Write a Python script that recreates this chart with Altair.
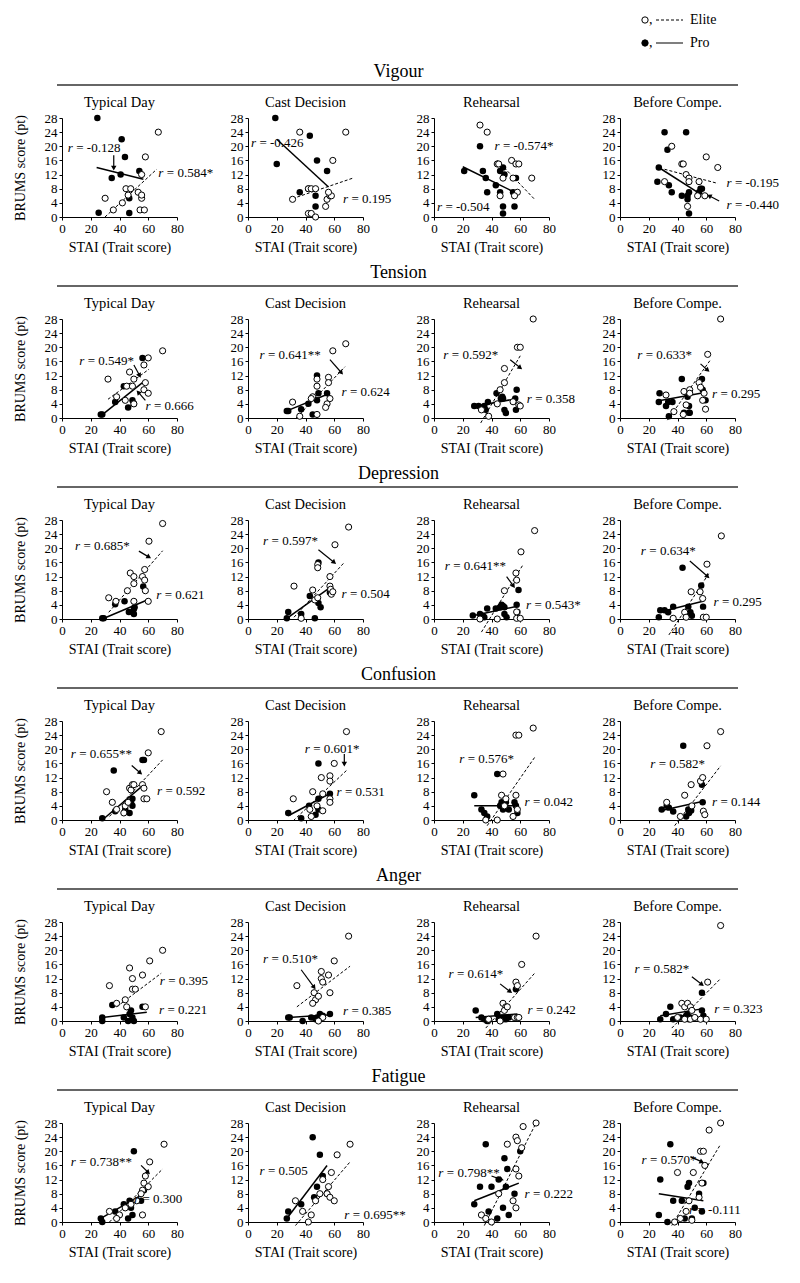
import math
import altair as alt
import pandas as pd

FONT = "Liberation Serif, Times New Roman, serif"
PERIODS = ["Typical Day", "Cast Decision", "Rehearsal", "Before Compe."]
MEASURES = ["Vigour", "Tension", "Depression", "Confusion", "Anger", "Fatigue"]
X_TICKS = [0, 20, 40, 60, 80]
Y_TICKS = [0, 4, 8, 12, 16, 20, 24, 28]
LEGEND_GROUPS = ["Elite", "Pro"]

# ---- data: per measure, 4 panels (Typical Day, Cast Decision, Rehearsal, Before Compe.)
# points are (STAI trait score, BRUMS score)
vigour_elite = [
    [(67, 24), (58, 17), (55.4, 12), (35.7, 2), (30, 5.3), (42, 4), (44.5, 8), (47.8, 8), (46, 6.2), (53, 7), (55.4, 5.3), (55.4, 6.2), (54.3, 2), (57.3, 2)],
    [(36, 24), (68, 24), (59, 16), (31, 5), (42, 8), (44, 8), (47, 8), (42, 1), (44, 1), (47, 0), (54, 3), (55, 5), (57, 6), (58, 6), (56, 7)],
    [(32, 26), (37, 24), (44, 15), (45, 15), (48, 11), (54, 16), (57, 15), (59, 15), (68, 11), (58, 7), (56, 6), (46, 6), (55, 11)],
    [(36, 20), (43, 15), (44, 15), (46, 12), (48, 11), (48, 10), (31, 10), (55, 10), (60, 17), (68, 14), (47, 3), (54, 6), (59, 6)],
]
vigour_pro = [
    [(24.6, 28), (41.5, 22), (43.8, 17), (34.6, 11), (40.8, 12), (53.8, 13), (46.8, 5.3), (46.8, 1.1), (25.5, 1.2)],
    [(19, 28), (20, 15), (36, 7), (43, 23), (48, 16), (47, 6), (47, 3), (55, 13), (42, 8)],
    [(21, 13), (32, 20), (34, 13), (36, 11), (37, 7), (43, 9), (46, 13), (48, 14), (49, 12), (46, 7), (48, 3), (48, 1), (55, 7), (56, 3), (57, 11)],
    [(31, 24), (46, 24), (33, 19), (27, 14), (26, 10), (34, 9), (36, 7), (43, 6), (47, 5), (47, 6), (48, 7), (48, 1), (55, 7), (56, 8), (57, 8)],
]
# regression line end points: (elite x1, y1, x2, y2), (pro x1, y1, x2, y2)
vigour_lines = [
    ((29.9, 0, 65.9, 13.5), (24.1, 14, 56.6, 10.7)),
    ((31, 5.2, 73, 11), (20, 22, 56, 8.5)),
    ((44, 16, 70, 5), (20, 14.2, 56, 7)),
    ((31, 13.5, 68, 9.5), (27, 14, 56, 6.5)),
]
# r annotations: (value, x, y, arrow (x1, y1, x2, y2) or None)
vigour_r = [
    [("-0.128", 4, 19.5, (36, 17.5, 36, 13.8)), ("0.584*", 67, 12.5, None)],
    [("-0.426", 2, 21, None), ("0.195", 66, 5.2, None)],
    [("-0.574*", 42, 20, None), ("-0.504", 2, 2.8, None)],
    [("-0.195", 74, 9.5, None), ("-0.440", 74, 3.5, (69, 4.5, 62, 6))],
]

tension_elite = [
    [(32, 11), (38, 6), (44, 5), (45, 9), (47, 13), (49, 9), (50, 11), (50, 4), (57, 15), (60, 17), (70, 19), (58, 10), (57, 8), (60, 7)],
    [(31, 4.5), (36, 0.5), (45, 6), (44, 5.5), (48, 9), (48, 11), (48, 1), (56, 11.5), (56, 10), (57, 5.5), (55, 4), (54, 3), (59, 19), (68, 21)],
    [(33, 2.3), (38, 0.5), (46, 8), (49, 10), (49, 14), (58, 20), (60, 20), (59, 3.7), (60, 3.4), (55, 4.6), (69, 28), (44, 4)],
    [(32, 6.5), (37.5, 1.8), (44.5, 7.5), (46, 3.7), (48.5, 8), (48.5, 7), (55, 10), (56, 8.7), (58.5, 7), (57.5, 5), (59.5, 2.5), (61, 18), (70, 28), (44, 1)],
]
tension_pro = [
    [(27, 1), (28, 1), (37, 4.5), (43, 9), (46, 3), (49, 5), (50, 4), (56, 17)],
    [(27, 2), (28, 2), (37, 2.5), (42, 4), (45, 1), (48, 5), (48, 12), (49, 7), (55, 7)],
    [(28, 3.4), (31, 3.4), (35, 3.4), (36, 2.3), (37.5, 4.5), (43.5, 7), (46.5, 5.5), (47.5, 6), (48, 5.5), (49, 2.3), (50, 1.4), (56.5, 5.5), (57, 2.3), (57.5, 8)],
    [(27, 4.5), (27.5, 7), (32, 3.4), (33.5, 4.5), (36.5, 4.5), (43, 11), (47, 6), (48, 3.4), (48, 1.5), (48.5, 1.5), (44.5, 1.5), (34, 0.5), (57, 11), (57.5, 8), (59.5, 5)],
]
tension_lines = [
    ((32, 5.3, 60.5, 13.8), (27, 0.6, 56, 10)),
    ((33.5, 0, 67.5, 14.5), (27, 2, 57, 7)),
    ((32.5, -1.4, 60, 17.6), (28, 3.3, 58, 5.5)),
    ((33, -0.6, 62.5, 16.2), (27, 4.9, 60, 7.3)),
]
tension_r = [
    [("0.549*", 12, 16.2, (50, 15, 54, 12)), ("0.666", 58, 3.4, (58, 5, 53, 7.3))],
    [("0.641**", 8, 17.7, (57, 16.5, 65, 12.8)), ("0.624", 65, 7.3, None)],
    [("0.592*", 6.5, 17.7, (53, 16.5, 60, 14.2)), ("0.358", 64.5, 5.5, None)],
    [("0.633*", 12, 17.7, (56, 15.3, 61, 13.5)), ("0.295", 64, 6.9, None)],
]

depression_elite = [
    [(32.5, 6), (37.5, 5), (45.5, 8), (47.5, 13), (50, 12), (50, 10), (50, 5), (56, 12), (57.5, 14), (57.5, 11), (58, 8), (60, 5), (60.5, 22), (70, 27)],
    [(32, 9.3), (37, 0.2), (45, 8.2), (46.5, 5.4), (48.5, 15.4), (48.5, 14.5), (48.5, 6), (57, 12), (57, 9.3), (57.5, 8.4), (58, 7), (59, 7.7), (60.5, 21), (70, 26)],
    [(32, 0), (44, 0), (49, 8), (57, 13), (57.5, 11), (57.5, 2), (57.5, 0.2), (60, 0.2), (60.5, 19), (70, 25)],
    [(37, 0.2), (45, 1.9), (46, 0.5), (49.5, 7.7), (55.7, 7.7), (57.5, 5.8), (58, 0.5), (60, 0.5), (60.5, 15.5), (70.5, 23.5)],
]
depression_pro = [
    [(28, 0.2), (29, 0.2), (37, 4.2), (43.5, 5), (46.5, 2), (49, 2), (50, 2.8), (50, 1.4), (50.5, 3.3), (56.5, 9.2)],
    [(28, 2), (27, 0.2), (37, 1.4), (43, 6.5), (46.5, 0.2), (49, 16), (49, 4.5), (50.5, 3.3), (57, 7.5)],
    [(27, 1), (32, 1.4), (34, 0.9), (35, 0.5), (37, 3), (43, 3), (46, 3.3), (47, 4), (48, 3.7), (49, 3.3), (49, 1.4), (50.5, 0.5), (57.5, 4), (58, 2), (58.8, 8.2)],
    [(27, 0.5), (28, 2.5), (31, 2.5), (33.5, 1.9), (37, 3.5), (43.5, 14.5), (47.5, 3.5), (49, 1.9), (50, 0.9), (56.5, 9.5), (57.8, 3.5)],
]
depression_lines = [
    ((32.5, 1.9, 70, 19.3), (28, 0, 60.5, 5.6)),
    ((32, 0.5, 67, 16), (27, 0.2, 56, 8.6)),
    ((33, -3.7, 62, 15.4), (27, 0.9, 58.8, 3.7)),
    ((34, -4.5, 62, 13), (27, 1.9, 58.4, 5.1)),
]
depression_r = [
    [("0.685*", 9, 20.6, (53.5, 19.2, 60.5, 17.5)), ("0.621", 65.5, 6.7, None)],
    [("0.597*", 10.5, 22.2, (49, 19.6, 60, 16)), ("0.504", 65, 7, None)],
    [("0.641**", 7.5, 15, (50.5, 12, 55.3, 9.3)), ("0.543*", 64, 3.9, None)],
    [("0.634*", 14.5, 19.2, (48.6, 16.4, 61, 12)), ("0.295", 65, 4.9, None)],
]

confusion_elite = [
    [(31, 8), (35, 5), (38, 3), (43, 2), (44, 4), (46, 5), (47, 9), (48, 8.5), (49, 10), (50, 10), (56, 10), (57, 9), (57, 6), (59, 6), (60, 19), (69, 25)],
    [(68.5, 25), (60, 16), (51, 12), (57, 12.5), (57, 11), (45, 8), (31.5, 6), (52, 7.4), (57, 6), (57, 5), (43, 3), (48, 4), (52, 2.6), (44, 1)],
    [(48, 13), (47, 7), (50, 6), (57, 7), (57, 24), (59, 24), (69, 26), (36, 0), (44, 0), (55, 1), (58, 3), (49, 4)],
    [(32.5, 5), (45, 7), (49.5, 10), (56, 11), (57.5, 12), (60.5, 21), (70, 25), (58, 2.5), (59, 1.5), (42, 1), (50, 4)],
]
confusion_pro = [
    [(28, 0.5), (37, 2.5), (36, 14), (47, 2), (48, 5), (49, 4), (49, 6), (56, 17), (57, 17), (44, 3)],
    [(49, 16), (28, 2), (42.5, 4), (49, 6), (49, 3), (57, 7.4), (37, 0.5), (47, 1.5)],
    [(28, 7), (33, 3), (35, 2), (37, 1), (44, 13), (46, 4), (47, 5), (48, 3), (49, 4), (50, 5), (52, 3), (56, 5), (57, 4), (58, 2)],
    [(44, 21), (57, 10), (57.5, 5), (29, 3), (32.5, 4), (34, 3.5), (37, 2.4), (47.5, 3), (49.5, 2.7), (48, 2), (46, 1)],
]
confusion_lines = [
    ((33, 1, 70, 17), (28, 0, 57, 10)),
    ((31.5, -0.2, 68.5, 14), (28, 1.2, 57, 7.5)),
    ((37, -1.6, 70, 17.7), (28, 4, 58, 4)),
    ((38, -1.6, 70, 15.3), (28, 2.6, 58, 5.3)),
]
confusion_r = [
    [("0.655**", 6, 18.7, (48.5, 15.4, 54.5, 13.3)), ("0.592", 66, 8.3, None)],
    [("0.601*", 39.5, 20.1, (67, 18.7, 67, 15.8)), ("0.531", 61.5, 8, None)],
    [("0.576*", 17.5, 17.3, None), ("0.042", 63, 5, None)],
    [("0.582*", 21, 15.8, None), ("0.144", 64, 5, None)],
]

anger_elite = [
    [(33, 10), (47, 15), (49, 12), (49, 9), (51, 9), (56, 13), (61, 17), (70, 20), (45, 4), (58, 4), (38, 5), (44, 6)],
    [(34, 10), (46, 8), (47, 6), (49, 7), (51, 14), (51, 12), (52, 11), (56, 13), (60, 17), (70, 24), (57, 8), (45, 5), (52, 1), (49, 0)],
    [(71, 24), (61, 16), (57, 11), (58, 10), (48, 5), (50, 4), (49, 3), (51, 4), (56, 1), (58, 1), (59, 1), (38, 0.5), (46, 0)],
    [(70, 27), (61, 11), (43, 5), (45, 4), (47, 5), (49, 4), (50, 3), (45, 0.5), (49, 0.5), (56, 0.5), (60, 0.5), (40, 1), (52, 1)],
]
anger_pro = [
    [(28, 1), (28, 0), (35, 4.5), (43, 1), (46, 0), (48, 3), (49, 1), (50, 0), (56, 4), (47, 2)],
    [(28, 1), (29, 1), (38, 0), (44, 1), (47, 0.5), (50, 2), (50, 1), (52, 1.5), (57, 2), (48, 1)],
    [(29, 3), (33, 1), (35, 0.5), (37, 0), (44, 2), (47, 1), (48, 0.5), (49, 1), (50, 0.5), (52, 1), (56, 1), (57, 9), (45, 0.5)],
    [(28, 0.5), (32, 2), (35, 4), (37, 0.5), (42, 1), (46, 1.5), (47, 2), (48, 0.5), (49, 1), (57, 3), (58, 1.5), (57, 8)],
]
anger_lines = [
    ((38, 4, 69, 13.5), (28, 1, 59, 2.5)),
    ((34, 4, 71, 15.5), (28, 1, 58, 1.8)),
    ((36, -2, 70, 13.5), (29, 1, 58, 2)),
    ((36, -2, 70, 12), (28, 1.5, 58, 3.5)),
]
anger_r = [
    [("0.395", 68, 11.2, None), ("0.221", 67.5, 3, None)],
    [("0.510*", 10.5, 17.5, (37, 14.5, 46, 9.5)), ("0.385", 66, 2.8, None)],
    [("0.614*", 10, 13.3, (46, 10.5, 53, 8.3)), ("0.242", 65, 3, None)],
    [("0.582*", 10, 14.8, (50, 12.5, 57, 10.3)), ("0.323", 65.5, 3.5, None)],
]

fatigue_elite = [
    [(71, 22), (61, 17), (58, 13), (57, 11), (56, 9), (55, 8), (52, 6), (48, 5), (44, 4), (40, 2), (33, 3), (38, 1), (56, 2), (60, 10)],
    [(71, 22), (62, 19), (58, 14), (56, 10), (55, 8), (57, 7), (60, 6), (50, 8), (47, 6), (44, 2), (42, 0), (38, 3), (33, 6), (52, 12)],
    [(51, 22), (57, 24), (58, 23), (62, 27), (71, 28), (61, 21), (57, 15), (59, 13), (33, 2), (36, 1), (40, 0), (55, 6), (57, 4), (45, 8)],
    [(70, 28), (62, 26), (56, 20), (58, 20), (40, 14), (51, 14), (57, 11), (55, 7), (48, 6), (46, 3), (42, 1), (38, 0), (50, 0.5), (59, 16)],
]
fatigue_pro = [
    [(27, 1), (28, 0), (37, 3), (43, 5), (47, 6), (48, 4), (49, 2), (50, 20), (55, 6), (57, 9), (46, 1)],
    [(27, 1), (28, 3), (37, 5), (45, 24), (50, 19), (52, 13), (48, 10), (46, 7), (55, 8)],
    [(36, 22), (49, 18), (51, 15), (60, 20), (32, 10), (40, 10), (45, 12), (50, 10), (56, 8), (48, 4), (52, 2), (44, 1), (38, 3), (28, 5)],
    [(35, 22), (28, 12), (27, 2), (33, 0), (37, 6), (43, 6), (45, 1), (47, 10), (48, 11), (50, 1), (52, 4), (55, 8), (57, 3), (58, 11)],
]
fatigue_lines = [
    ((33, 0, 70, 15), (27, 1, 57, 8)),
    ((33, -1, 71, 17), (27, 1, 55, 16)),
    ((35, -1, 71, 28), (28, 6, 59, 11)),
    ((36, -1, 70, 22), (27, 8, 58, 6)),
]
fatigue_r = [
    [("0.738**", 6, 17, (55, 16, 60, 14)), ("0.300", 50, 6.5, None)],
    [("0.505", 8, 14.5, None), ("0.695**", 67, 2, None)],
    [("0.798**", 3, 14, (40, 13, 47, 12)), ("0.222", 63, 8, None)],
    [("0.570*", 15, 17.5, (49, 18.5, 57, 17)), ("-0.111", 48, 3.5, None)],
]

ROWS = [
    (vigour_elite, vigour_pro, vigour_lines, vigour_r),
    (tension_elite, tension_pro, tension_lines, tension_r),
    (depression_elite, depression_pro, depression_lines, depression_r),
    (confusion_elite, confusion_pro, confusion_lines, confusion_r),
    (anger_elite, anger_pro, anger_lines, anger_r),
    (fatigue_elite, fatigue_pro, fatigue_lines, fatigue_r),
]

# ---- layout constants
W, H = 115, 99
GAP = 71
TOTAL_W = 4 * W + 3 * GAP
HEAD_H = 24
LEG_H = 40
ROW_GAP = 8
PX_X = W / 80.0
PX_Y = H / 28.0

AXIS_STYLE = dict(labelFont=FONT, titleFont=FONT, labelFontSize=13, titleFontSize=14,
                  titleFontWeight="normal", labelColor="black", titleColor="black",
                  domainColor="black", tickColor="black", grid=False, tickSize=3,
                  labelPadding=2, labelFlush=False, labelOverlap=False)


def panel(pi, elite, pro, lines, notes):
    xs = alt.Scale(domain=[0, 80], nice=False, zero=False)
    ys = alt.Scale(domain=[0, 28], nice=False, zero=False)
    xaxis = alt.Axis(values=X_TICKS, title="STAI (Trait score)", titlePadding=5, **AXIS_STYLE)
    yaxis = alt.Axis(values=Y_TICKS, title=("BRUMS score (pt)" if pi == 0 else ""),
                     titlePadding=17, **AXIS_STYLE)

    def X(f):
        return alt.X(f, scale=xs, axis=xaxis)

    def Y(f):
        return alt.Y(f, scale=ys, axis=yaxis)

    e_line, p_line = lines
    eline_df = pd.DataFrame([dict(x=e_line[0], y=e_line[1], x2=e_line[2], y2=e_line[3])])
    pline_df = pd.DataFrame([dict(x=p_line[0], y=p_line[1], x2=p_line[2], y2=p_line[3])])
    el = alt.Chart(eline_df).mark_rule(color="black", strokeWidth=1, strokeDash=[3, 2]).encode(
        x=X("x:Q"), y=Y("y:Q"), x2="x2:Q", y2="y2:Q")
    pl = alt.Chart(pline_df).mark_rule(color="black", strokeWidth=1.5).encode(
        x=X("x:Q"), y=Y("y:Q"), x2="x2:Q", y2="y2:Q")

    pro_df = pd.DataFrame(pro, columns=["x", "y"])
    eli_df = pd.DataFrame(elite, columns=["x", "y"])
    pp = alt.Chart(pro_df).mark_point(shape="circle", filled=True, color="black", size=42,
                                      opacity=1).encode(x=X("x:Q"), y=Y("y:Q"))
    ep = alt.Chart(eli_df).mark_point(shape="circle", filled=True, fill="white", stroke="black",
                                      strokeWidth=1, size=38, opacity=1).encode(
        x=X("x:Q"), y=Y("y:Q"))

    note_rows = []
    arrow_rows = []
    for val, nx, ny, arr in notes:
        note_rows.append(dict(x=nx, y=ny, txt="= " + val))
        if arr is not None:
            x1, y1, x2, y2 = arr
            dxp = (x2 - x1) * PX_X
            dyp = -(y2 - y1) * PX_Y
            ang = math.degrees(math.atan2(dxp, -dyp)) % 360
            arrow_rows.append(dict(x=x1, y=y1, x2=x2, y2=y2, ang=ang))
    note_df = pd.DataFrame(note_rows)
    r_txt = alt.Chart(note_df).mark_text(align="left", baseline="middle", font=FONT, fontSize=13,
                                         fontStyle="italic", color="black").encode(
        x=X("x:Q"), y=Y("y:Q"), text=alt.value("r"))
    v_txt = alt.Chart(note_df).mark_text(align="left", baseline="middle", font=FONT, fontSize=13,
                                         dx=8.5, color="black").encode(
        x=X("x:Q"), y=Y("y:Q"), text="txt:N")
    layers = [el, pl, pp, ep]
    if arrow_rows:
        arr_df = pd.DataFrame(arrow_rows)
        ar = alt.Chart(arr_df).mark_rule(color="black", strokeWidth=1.2).encode(
            x=X("x:Q"), y=Y("y:Q"), x2="x2:Q", y2="y2:Q")
        ah = alt.Chart(arr_df).mark_point(shape="triangle-up", filled=True, color="black",
                                          size=30, opacity=1).encode(
            x=X("x2:Q"), y=Y("y2:Q"), angle=alt.Angle("ang:Q", scale=None))
        layers += [ar, ah]
    layers += [r_txt, v_txt]
    return alt.layer(*layers).properties(
        width=W, height=H,
        title=alt.TitleParams(text=PERIODS[pi], font=FONT, fontSize=14.5, fontWeight="normal",
                              anchor="middle", offset=2, color="black"))


def header(measure):
    df = pd.DataFrame({"m": [measure]})
    t = alt.Chart(df).mark_text(font=FONT, fontSize=18, baseline="middle", color="black").encode(
        x=alt.value(TOTAL_W / 2), y=alt.value(HEAD_H - 13), text="m:N")
    r = alt.Chart(df).mark_rule(color="#333333", strokeWidth=1.4).encode(
        x=alt.value(-5), x2=alt.value(TOTAL_W + 3), y=alt.value(HEAD_H))
    return alt.layer(t, r).properties(width=TOTAL_W, height=HEAD_H)


def legend():
    df = pd.DataFrame({"g": LEGEND_GROUPS})
    ly = alt.Y("g:N", scale=alt.Scale(type="point", domain=LEGEND_GROUPS, range=[7, 30], padding=0),
               axis=None)
    sym = alt.Chart(df).mark_point(shape="circle", filled=True, stroke="black", strokeWidth=1,
                                   size=40, opacity=1).encode(
        x=alt.value(583), y=ly,
        fill=alt.Fill("g:N", scale=alt.Scale(domain=LEGEND_GROUPS, range=["white", "black"]),
                      legend=None))
    comma = alt.Chart(df).mark_text(text=",", font=FONT, fontSize=14, align="left",
                                    baseline="middle", color="black").encode(x=alt.value(587), y=ly)
    line = alt.Chart(df).mark_rule(color="black", strokeWidth=1.2).encode(
        x=alt.value(594), x2=alt.value(621), y=ly,
        strokeDash=alt.StrokeDash("g:N", scale=alt.Scale(domain=LEGEND_GROUPS,
                                                         range=[[3, 2], [1, 0]]), legend=None))
    txt = alt.Chart(df).mark_text(font=FONT, fontSize=14, align="left", baseline="middle",
                                  color="black").encode(x=alt.value(628), y=ly, text="g:N")
    return alt.layer(sym, comma, line, txt).properties(width=TOTAL_W, height=LEG_H)


items = [legend()]
for mi, measure in enumerate(MEASURES):
    elite_all, pro_all, lines_all, notes_all = ROWS[mi]
    items.append(header(measure))
    panels = [panel(pi, elite_all[pi], pro_all[pi], lines_all[pi], notes_all[pi]) for pi in range(4)]
    items.append(alt.hconcat(*panels, spacing=GAP, bounds="flush"))

chart = alt.vconcat(*items, spacing=ROW_GAP).properties(background="white").configure_view(
    stroke=None
).configure_axis(
    labelFont=FONT, titleFont=FONT
).configure_title(font=FONT)

chart.save("out.html", embed_options={"renderer": "svg", "actions": False})
